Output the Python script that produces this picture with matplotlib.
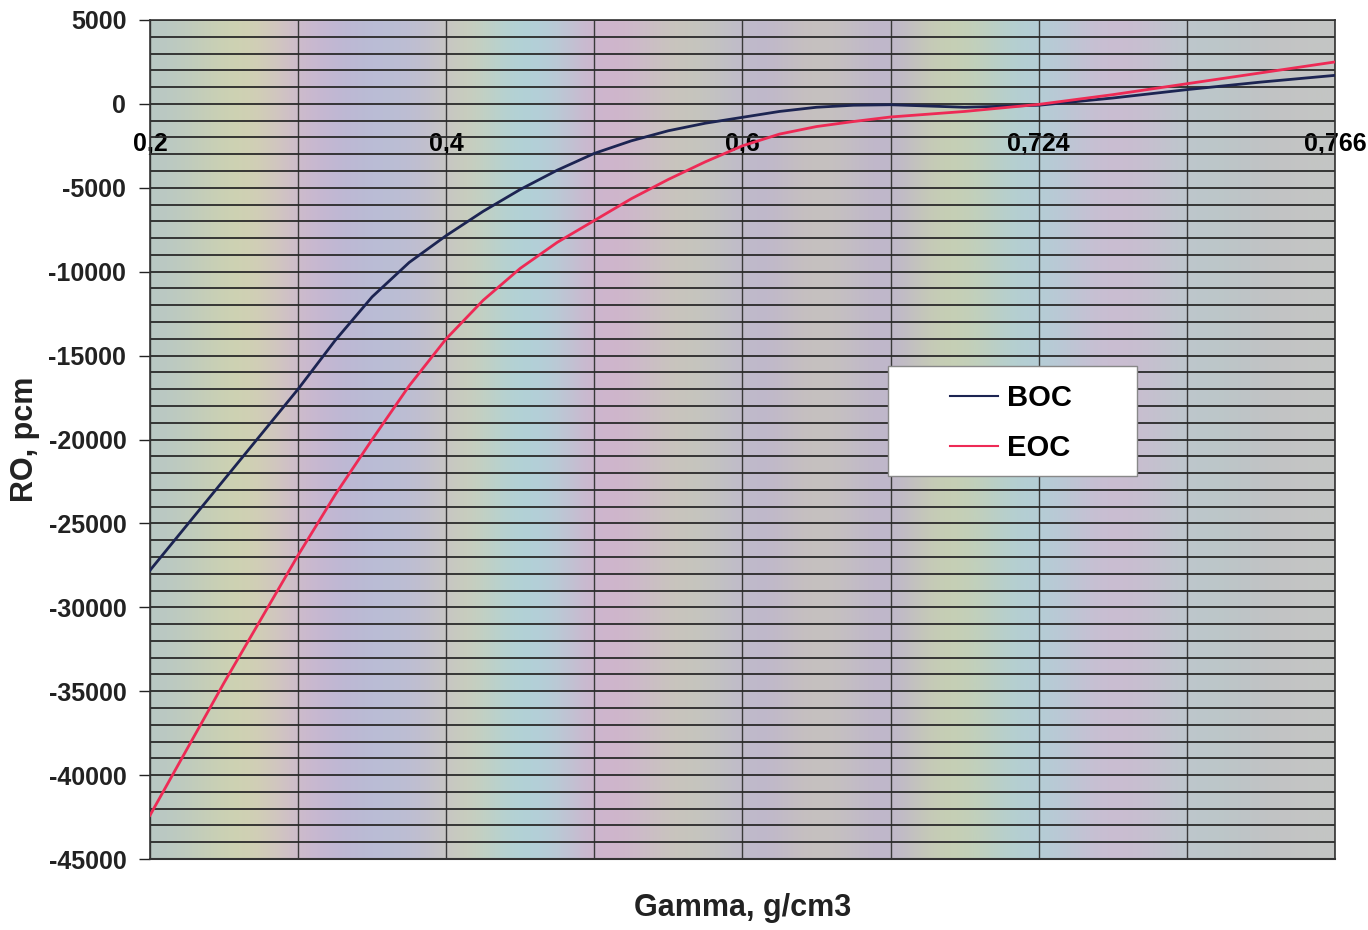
import numpy as np
import matplotlib
matplotlib.use('Agg')
import matplotlib.pyplot as plt
from matplotlib.colors import to_rgb
from matplotlib.patches import Rectangle

plt.rcParams['font.family'] = ['Liberation Sans', 'DejaVu Sans']
plt.rcParams['font.weight'] = 'bold'
plt.rcParams['axes.unicode_minus'] = False

# category axis: 9 grid positions, labels on every second one
gamma_labels = ['0,2', '0,4', '0,6', '0,724', '0,766']
sample_pos = [0, 0.5, 1, 1.25, 1.5, 1.75, 2, 2.25, 2.5, 2.75, 3, 3.25, 3.5,
              3.75, 4, 4.25, 4.5, 4.75, 5, 5.5, 6, 6.5, 7, 7.5, 8]
boc = [-27800, -22400, -17000, -14100, -11500, -9450, -7850, -6400, -5100,
       -3950, -2950, -2200, -1600, -1150, -800, -450, -200, -80, -50,
       -200, -80, 350, 850, 1300, 1700]
eoc = [-42400, -34500, -26900, -23300, -20000, -16800, -14000, -11700, -9800,
       -8250, -6950, -5650, -4500, -3450, -2500, -1800, -1350, -1050, -780,
       -450, -30, 550, 1200, 1850, 2500]

# scanned paper tint, left to right
band_colors = ['#b9c8c4', '#c9d0b4', '#d2d4b0', '#d0b8cf', '#bdb6d4', '#b8bfd6',
               '#c0bcd2', '#cfd0b4', '#afd2d8', '#b4d0d8', '#d2b0cc', '#cdb9cc',
               '#c8c8b8', '#c2c2c4', '#bdb4d0', '#c8c2bc', '#c4c0c2', '#bdb0d2',
               '#c8d0b0', '#c4d0b8', '#b0d0d6', '#b8cad6', '#ccbcd2', '#c8bed0',
               '#bcc8cc', '#bcc6c8', '#c2c2c4', '#c4c6c4']

fig = plt.figure(figsize=(13.68, 9.30), dpi=100)
ax = fig.add_axes([0.1096, 0.0763, 0.8662, 0.9022])

bands = np.array([to_rgb(c) for c in band_colors])[None, :, :]
ax.imshow(bands, extent=(0, 8, -45000, 5000), aspect='auto',
          interpolation='bicubic', zorder=0)

ax.plot(sample_pos, boc, color='#1c2452', lw=2, label='BOC', zorder=3)
ax.plot(sample_pos, eoc, color='#ee2a55', lw=2, label='EOC', zorder=3)

ax.set_xlim(0, 8)
ax.set_ylim(-45000, 5000)
ax.set_yticks(np.arange(-45000, 5001, 5000))
ax.set_yticks(np.arange(-45000, 5001, 1000), minor=True)
ax.set_xticks(range(0, 9, 2), gamma_labels)
ax.set_xticks(range(0, 9), minor=True)

ax.grid(which='both', axis='y', color='#2a2a2a', lw=1.3)
ax.grid(which='both', axis='x', color='#3a3a3a', lw=1.0)

ax.spines['bottom'].set_position(('data', 0))
ax.spines['bottom'].set_visible(False)
for s in ['top', 'left', 'right']:
    ax.spines[s].set_color('#333333')
    ax.spines[s].set_linewidth(1.2)
ax.axhline(-45000, color='#333333', lw=1.5, clip_on=False)

ax.tick_params(axis='x', which='both', length=0, pad=20, labelsize=18)
ax.tick_params(axis='y', which='major', length=8, width=1, pad=9,
               labelsize=18, direction='out', colors='#222222')
ax.tick_params(axis='y', which='minor', length=0)

ax.set_ylabel('RO, pcm', fontsize=22, fontweight='bold', labelpad=6, color='#222222')
ax.set_xlabel('Gamma, g/cm3', fontsize=22, fontweight='bold', color='#222222')
ax.xaxis.set_label_coords(0.5, -0.04)

ax.add_patch(Rectangle((0.6228, 0.4565), 0.2101, 0.1311, transform=ax.transAxes,
                       facecolor='white', edgecolor='#888888', lw=1, zorder=4))
leg = ax.legend(loc='center left', bbox_to_anchor=(0.675, 0.5195), frameon=False,
                borderpad=0, borderaxespad=0, handlelength=1.65, handletextpad=0.3,
                labelspacing=0.75, fontsize=21)
leg.set_zorder(5)
for h in leg.get_lines():
    h.set_linewidth(1.5)

plt.savefig('out.png', dpi=100)
